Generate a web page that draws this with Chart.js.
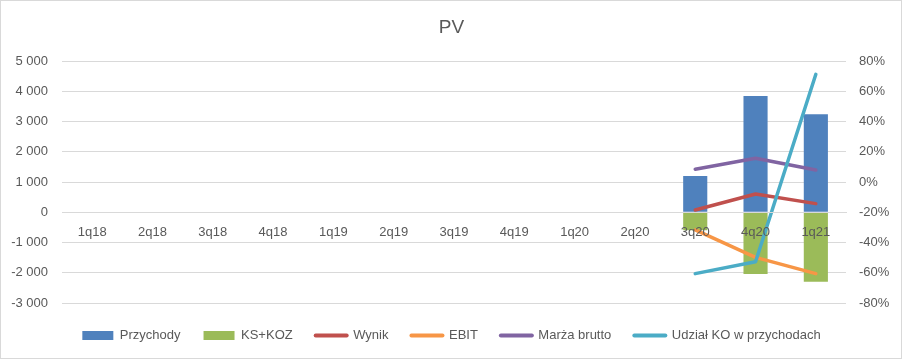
<!DOCTYPE html>
<html><head><meta charset="utf-8">
<script src="https://cdn.jsdelivr.net/npm/chart.js@4"></script>
<style>html,body{margin:0;padding:0;background:#fff}</style>
</head><body>
<canvas id="c" width="903" height="360"></canvas>
<script>
const categories = ['1q18','2q18','3q18','4q18','1q19','2q19','3q19','4q19','1q20','2q20','3q20','4q20','1q21'];
const przychody = [null,null,null,null,null,null,null,null,null,null,1200,3840,3240];
const ksKoz     = [null,null,null,null,null,null,null,null,null,null,-595,-2040,-2300];
const wynik     = [null,null,null,null,null,null,null,null,null,null,-0.185,-0.079,-0.143];
const ebit      = [null,null,null,null,null,null,null,null,null,null,-0.317,-0.498,-0.606];
const marza     = [null,null,null,null,null,null,null,null,null,null,0.084,0.157,0.079];
const udzialKO  = [null,null,null,null,null,null,null,null,null,null,-0.606,-0.527,0.712];
const leftTicks  = [-3000,-2000,-1000,0,1000,2000,3000,4000,5000];
const rightTicks = [-0.8,-0.6,-0.4,-0.2,0,0.2,0.4,0.6,0.8];
const seriesNames = ['Przychody','KS+KOZ','Wynik','EBIT','Marża brutto','Udział KO w przychodach'];

const TXT = '#595959', GRID = '#D9D9D9', FONT = "'Liberation Sans', Arial, sans-serif";
function fmtNum(v){ const s = Math.abs(v).toString().replace(/\B(?=(\d{3})+(?!\d))/g,' '); return (v<0?'-':'')+s; }
function fmtPct(v){ return Math.round(v*100)+'%'; }

const lineDs = (label, data, color, order) => ({
  type:'line', label, data, borderColor:color, backgroundColor:color, borderWidth:3.5,
  pointRadius:0, pointHoverRadius:0, tension:0, spanGaps:false, borderCapStyle:'round',
  borderJoinStyle:'round', yAxisID:'y2', order, fill:false
});

const datasets = [
  {type:'bar', label:seriesNames[0], data:przychody, backgroundColor:'#4F81BD', yAxisID:'y', order:6, categoryPercentage:0.8, barPercentage:0.5},
  {type:'bar', label:seriesNames[1], data:ksKoz, backgroundColor:'#9BBB59', yAxisID:'y', order:5, categoryPercentage:0.8, barPercentage:0.5},
  lineDs(seriesNames[2], wynik, '#C0504D', 4),
  lineDs(seriesNames[3], ebit, '#F79646', 3),
  lineDs(seriesNames[4], marza, '#8064A2', 2),
  lineDs(seriesNames[5], udzialKO, '#4BACC6', 1)
];

const frame = {id:'frame', afterDraw(chart){ const c=chart.ctx; c.save(); c.strokeStyle=GRID; c.lineWidth=1; c.strokeRect(0.5,0.5,901,358); c.restore(); },
  beforeDraw(chart){ const c=chart.ctx; c.save(); c.fillStyle='#fff'; c.fillRect(0,0,chart.width,chart.height); c.restore(); }};

new Chart(document.getElementById('c'), {
  data:{labels:categories, datasets},
  plugins:[frame],
  options:{
    responsive:false, animation:false, devicePixelRatio:1,
    layout:{padding:{top:0,bottom:8,left:0,right:0}},
    plugins:{
      tooltip:{enabled:false},
      title:{display:true, text:'PV', color:TXT, font:{family:FONT,size:19,weight:'normal'}, padding:{top:16.6,bottom:21.6}},
      legend:{position:'bottom', labels:{
        font:{family:FONT,size:13}, color:TXT, usePointStyle:true, pointStyleWidth:31, boxHeight:9, padding:23,
        generateLabels:(chart)=>chart.data.datasets.map((ds,i)=>{
          const isBar = ds.type==='bar';
          return {text:ds.label, fillStyle:isBar?ds.backgroundColor:ds.borderColor, strokeStyle:isBar?ds.backgroundColor:ds.borderColor,
            lineWidth:isBar?0:4, lineCap:'round', pointStyle:isBar?'rect':'line', hidden:false, datasetIndex:i, fontColor:TXT};
        })
      }}
    },
    scales:{
      x:{type:'category', stacked:true, position:{y:0}, grid:{display:false, drawTicks:false}, border:{display:true,color:GRID,width:1,z:1},
        ticks:{color:TXT, font:{family:FONT,size:13}, maxRotation:0, autoSkip:false, padding:12, z:1}},
      xs:{type:'category', position:'bottom', display:true, grid:{display:false, drawTicks:false}, border:{display:false}, ticks:{display:false},
        afterFit:(s)=>{ s.height = 3; }},
      y:{type:'linear', position:'left', stacked:true, min:-3000, max:5000,
        afterBuildTicks:(s)=>{ s.ticks = leftTicks.map(v=>({value:v})); },
        afterFit:(s)=>{ s.width = 62; },
        grid:{color:GRID, drawTicks:false}, border:{display:false},
        ticks:{color:TXT, font:{family:FONT,size:13}, padding:14, callback:(v)=>fmtNum(v)}},
      y2:{type:'linear', position:'right', min:-0.8, max:0.8,
        afterBuildTicks:(s)=>{ s.ticks = rightTicks.map(v=>({value:v})); },
        afterFit:(s)=>{ s.width = 57; },
        grid:{drawOnChartArea:false, drawTicks:false}, border:{display:false},
        ticks:{color:TXT, font:{family:FONT,size:13}, padding:13, callback:(v)=>fmtPct(v)}}
    }
  }
});
</script>
</body></html>
